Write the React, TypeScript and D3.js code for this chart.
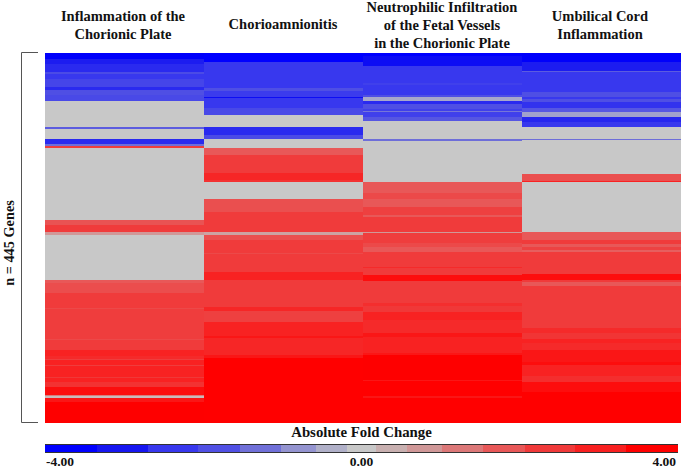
import React from "react";
import * as d3 from "d3";

const GENE_COUNT = 445;
const GRAY = null;
type Run = [number, number | null]; // [last gene index of the run, log fold change or null]

const categories = [
  ["Inflammation of the", "Chorionic Plate"],
  ["Chorioamnionitis"],
  ["Neutrophilic Infiltration", "of the Fetal Vessels", "in the Chorionic Plate"],
  ["Umbilical Cord", "Inflammation"],
];

const plateRuns: Run[] = [
  [8, -3.5], [14, -2.9], [23, -2.6], [26, -1.9], [32, -2.4], [41, -2.1], [45, -2.6], [51, -1.8], [58, -2.0],
  [89, GRAY], [92, -1.6], [104, GRAY], [110, -2.6], [112, -1.3], [115, 2.3], [202, GRAY], [207, 1.9], [216, 2.39],
  [219, 0.8], [274, GRAY], [277, 1.8], [289, 2.0], [307, 2.39], [308, 2.1], [345, 2.3], [346, 2.1], [358, 2.39],
  [365, 3.0], [369, 2.8], [370, 2.3], [376, 3.0], [377, 2.3], [390, 3.0], [391, 2.4], [396, 3.0], [402, 2.6],
  [412, 3.4], [413, 1.2], [415, 0.2], [416, 1.2], [420, 3.2], [445, 3.6],
];

const chorioRuns: Run[] = [
  [11, -3.7], [43, -2.39], [46, -1.8], [54, -2.3], [55, -3.2], [67, -2.4], [75, -2.0], [90, GRAY], [99, -2.6],
  [104, -1.9], [115, GRAY], [123, 1.8], [145, 2.39], [153, 2.9], [156, 2.6], [176, GRAY], [192, 1.95], [216, 2.39],
  [219, 0.6], [225, 1.95], [241, 2.39], [242, 2.1], [264, 2.39], [274, 3.0], [306, 2.39], [311, 2.9], [324, 2.25],
  [341, 3.0], [343, 3.2], [364, 2.85], [367, 3.2], [445, 3.7],
];

const vesselRuns: Run[] = [
  [4, -3.7], [16, -3.2], [37, -2.39], [39, -2.2], [51, -2.39], [54, -1.8], [58, -0.5], [62, -2.6], [68, -1.8],
  [70, -2.2], [72, -1.2], [78, -2.2], [82, -1.7], [104, GRAY], [106, -1.3], [156, GRAY], [169, 1.8], [176, 2.1],
  [186, 1.8], [195, 2.25], [198, 1.8], [216, 2.39], [217, 0.8], [229, 2.3], [234, 2.1], [240, 1.8], [258, 2.39],
  [259, 2.8], [268, 2.39], [275, 3.5], [301, 2.39], [305, 2.7], [312, 2.4], [322, 3.0], [337, 2.8], [342, 3.2],
  [361, 3.0], [364, 3.3], [394, 3.6], [395, 3.2], [413, 3.7], [415, 3.2], [445, 3.7],
];

const cordRuns: Run[] = [
  [11, -3.5], [22, -2.9], [23, -1.6], [48, -2.39], [53, -1.8], [56, -2.4], [59, -1.8], [67, -2.5], [71, -1.7],
  [77, -0.6], [83, -2.7], [89, -2.4], [104, GRAY], [105, -1.3], [146, GRAY], [155, 1.95], [156, 3.0], [216, GRAY],
  [225, 1.8], [230, 2.39], [234, 1.8], [238, 2.2], [240, 1.7], [266, 2.39], [274, 3.5], [276, 2.39], [281, 1.8],
  [331, 2.39], [337, 2.8], [345, 2.5], [349, 3.0], [358, 2.8], [372, 3.2], [376, 3.4], [389, 3.0], [396, 2.7],
  [408, 3.5], [445, 3.7],
];

const seriesRuns = [plateRuns, chorioRuns, vesselRuns, cordRuns];

const legendBreaks = [-4, -3.34, -2.7, -2.07, -1.53, -1.02, -0.58, -0.18, 0.18, 0.58, 1.02, 1.53, 2.07, 2.7, 3.34, 4];
const legendColors = [
  "#0000ff", "#1616f0", "#3838ee", "#5050e4", "#7070d8", "#9494d0", "#b0b0c8", "#c8c8c8",
  "#c8b0b0", "#d09898", "#dc7878", "#e85858", "#f03a3a", "#f82020", "#ff0000",
];
const legendTicks = [-4, 0, 4];

const mids = legendColors.map((_, i) => (legendBreaks[i] + legendBreaks[i + 1]) / 2);
const color = d3.scaleLinear<string>().domain(mids).range(legendColors).clamp(true);

const x = d3.scaleBand<number>().domain(d3.range(categories.length)).range([44.5, 680.5]);
const y = d3.scaleLinear().domain([0, GENE_COUNT]).range([52.5, 422.5]);
const legendX = d3.scaleLinear().domain([-4, 4]).range([45, 678]);

const font = "'Liberation Serif', 'Times New Roman', serif";
const titleBase: Record<number, number> = { 1: 29, 2: 21, 3: 12 };

export default function App() {
  const [top, bottom] = y.range();
  return (
    <svg
      width={683}
      height={468}
      style={{ position: "absolute", left: 0, top: 0, background: "#fff" }}
      fontFamily={font}
      fontWeight="bold"
      fill="#111"
    >
      <defs>
        <filter id="soft" x="0" y="-2%" width="100%" height="104%">
          <feGaussianBlur stdDeviation="0 0.5" />
        </filter>
      </defs>
      <g filter="url(#soft)">
        {seriesRuns.map((runs, c) =>
          runs.map(([end, v], i) => {
            const start = i === 0 ? 0 : runs[i - 1][0];
            return (
              <rect
                key={`${c}-${i}`}
                x={x(c)}
                width={x.bandwidth()}
                y={y(start)}
                height={y(end) - y(start)}
                fill={v === null ? "#c8c8c8" : color(v)}
                shapeRendering="crispEdges"
              />
            );
          })
        )}
      </g>

      {categories.map((lines, c) => {
        const cx = x(c)! + x.bandwidth() / 2 - (c === 3 ? 1 : 0) + (c === 0 ? -1 : 0);
        return (
          <text key={c} textAnchor="middle" fontSize={14.5}>
            {lines.map((l, i) => (
              <tspan key={l} x={cx} y={titleBase[lines.length] + i * 18}>
                {l}
              </tspan>
            ))}
          </text>
        );
      })}

      <path d={`M38,${top}H21.5V${bottom}H38`} fill="none" stroke="#555" strokeWidth={1} />
      <text transform="translate(14,243) rotate(-90)" textAnchor="middle" fontSize={14.3}>
        n = {GENE_COUNT} Genes
      </text>

      <text x={legendX(0)} y={437} textAnchor="middle" fontSize={14.8}>
        Absolute Fold Change
      </text>
      {legendColors.map((c, i) => (
        <rect
          key={c}
          x={legendX(legendBreaks[i])}
          width={legendX(legendBreaks[i + 1]) - legendX(legendBreaks[i])}
          y={444}
          height={9}
          fill={c}
          shapeRendering="crispEdges"
        />
      ))}
      <path d={`M${legendX(-4)},444.5H${legendX(4)}M${legendX(-4)},452.5H${legendX(4)}`} stroke="#333" strokeWidth={1} fill="none" />
      {legendTicks.map((t, i) => (
        <text
          key={t}
          x={legendX(t) + (i === 0 ? 1 : i === 2 ? -2 : 0)}
          y={465.5}
          fontSize={13.5}
          textAnchor={i === 0 ? "start" : i === 2 ? "end" : "middle"}
        >
          {t.toFixed(2)}
        </text>
      ))}
    </svg>
  );
}
